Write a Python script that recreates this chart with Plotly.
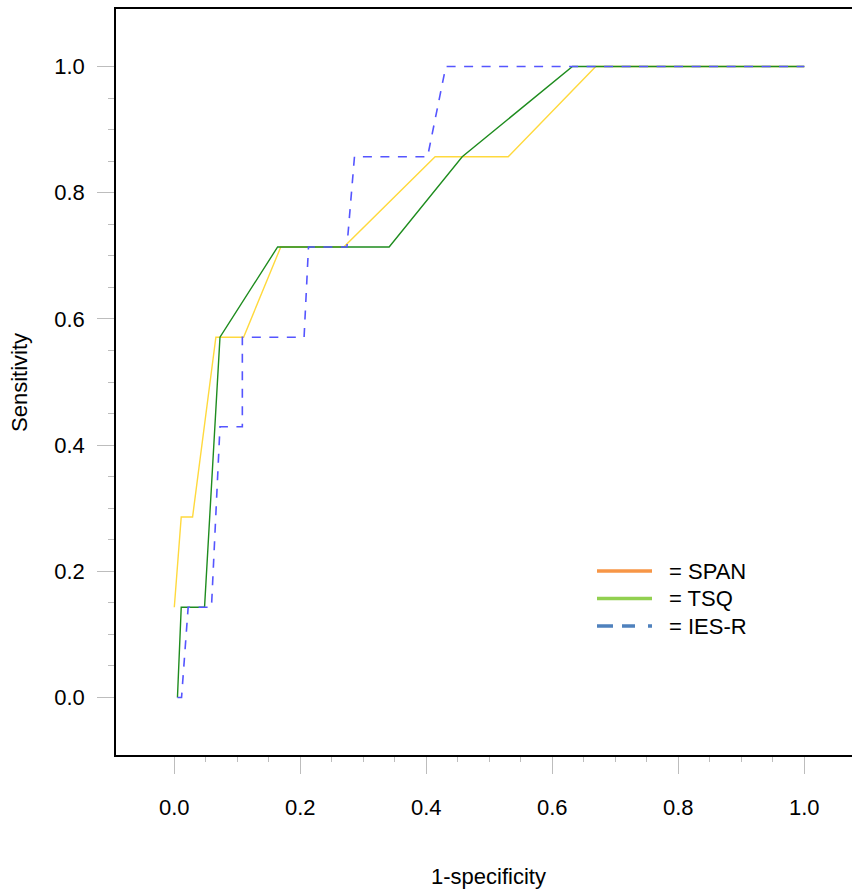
import plotly.graph_objects as go

# ---- data ----
span_x = [0.0, 0.011, 0.029, 0.066, 0.110, 0.169, 0.269, 0.414, 0.530, 0.669, 1.0]
span_y = [0.143, 0.286, 0.286, 0.571, 0.571, 0.714, 0.714, 0.857, 0.857, 1.0, 1.0]

tsq_x = [0.005, 0.011, 0.048, 0.0725, 0.164, 0.341, 0.457, 0.632, 1.0]
tsq_y = [0.0, 0.143, 0.143, 0.571, 0.714, 0.714, 0.857, 1.0, 1.0]

iesr_x = [0.005, 0.0115, 0.022, 0.059, 0.0725, 0.108, 0.108, 0.206, 0.213,
          0.274, 0.286, 0.402, 0.431, 1.0]
iesr_y = [0.0, 0.0, 0.143, 0.143, 0.429, 0.429, 0.571, 0.571, 0.714,
          0.714, 0.857, 0.857, 1.0, 1.0]

tick_vals = [0.0, 0.2, 0.4, 0.6, 0.8, 1.0]
tick_text = ["0.0", "0.2", "0.4", "0.6", "0.8", "1.0"]
minor_vals = [0.05, 0.1, 0.15, 0.25, 0.3, 0.35, 0.45, 0.5, 0.55,
              0.65, 0.7, 0.75, 0.85, 0.9, 0.95]

legend_names = ["= SPAN", "= TSQ", "= IES-R"]
legend_colors = ["#F79646", "#92D050", "#4F81BD"]
legend_dash = ["solid", "solid", "16px,9px,13px,13px,4px,10px"]

FONT = "Liberation Sans, Arial, sans-serif"

fig = go.Figure()
fig.add_trace(go.Scatter(x=span_x, y=span_y, mode="lines",
                         line=dict(color="#FFD93D", width=1.4), showlegend=False))
fig.add_trace(go.Scatter(x=tsq_x, y=tsq_y, mode="lines",
                         line=dict(color="#1E8C1E", width=1.4), showlegend=False))
fig.add_trace(go.Scatter(x=iesr_x, y=iesr_y, mode="lines",
                         line=dict(color="#5555FF", width=1.6, dash="9px,8.5px"),
                         showlegend=False))

W, H = 852, 889
L, R, T, B = 116, 0, 9, 134
pw = W - L - R
ph = H - T - B


def px2paper_x(px):
    return (px - L) / pw


def px2paper_y(py):
    return (H - B - py) / ph


# custom legend (shapes + text)
leg_y = [571, 598.5, 626]
for name, col, dsh, yy in zip(legend_names, legend_colors, legend_dash, leg_y):
    fig.add_shape(type="line", xref="paper", yref="paper",
                  x0=px2paper_x(597), x1=px2paper_x(652),
                  y0=px2paper_y(yy), y1=px2paper_y(yy),
                  line=dict(color=col, width=3.5, dash=dsh))
    fig.add_annotation(xref="paper", yref="paper", x=px2paper_x(667),
                       y=px2paper_y(yy), text=name, showarrow=False,
                       xanchor="left", yanchor="middle",
                       font=dict(family=FONT, size=22, color="black"))

# axis titles
fig.add_annotation(xref="paper", yref="paper", x=px2paper_x(489), y=px2paper_y(876),
                   text="1-specificity", showarrow=False, xanchor="center",
                   yanchor="middle", font=dict(family=FONT, size=22, color="black"))
fig.add_annotation(xref="paper", yref="paper", x=px2paper_x(19), y=px2paper_y(383),
                   text="Sensitivity", showarrow=False, textangle=-90,
                   xanchor="center", yanchor="middle",
                   font=dict(family=FONT, size=22, color="black"))

fig.update_layout(
    width=W, height=H,
    margin=dict(l=L, r=R, t=T, b=B, pad=0),
    plot_bgcolor="white", paper_bgcolor="white",
    font=dict(family=FONT, size=22, color="black"),
    showlegend=False,
)

fig.update_xaxes(
    range=[(116 - 174.3) / 630, (852 - 174.3) / 630],
    showgrid=False, zeroline=False,
    showline=True, linecolor="black", linewidth=1.5, mirror=True,
    tickmode="array", tickvals=tick_vals, ticktext=tick_text,
    ticks="outside", ticklen=17, tickcolor="#BDBDBD", tickwidth=1,
    ticklabelstandoff=15,
    minor=dict(tickmode="array", tickvals=minor_vals, ticks="outside",
               ticklen=5, tickcolor="#BDBDBD", tickwidth=1, showgrid=False),
)
fig.update_yaxes(
    range=[(697.5 - 755) / 631, (697.5 - 9) / 631],
    showgrid=False, zeroline=False,
    showline=True, linecolor="black", linewidth=1.5, mirror=False,
    tickmode="array", tickvals=tick_vals, ticktext=tick_text,
    ticks="outside", ticklen=17, tickcolor="#BDBDBD", tickwidth=1,
    ticklabelstandoff=8,
    minor=dict(tickmode="array", tickvals=minor_vals, ticks="outside",
               ticklen=6, tickcolor="#BDBDBD", tickwidth=1, showgrid=False),
)

fig.write_html("out.html",
               config={"displayModeBar": False},
               post_script="document.body.style.margin='0';"
                           "document.body.style.overflow='hidden';")
